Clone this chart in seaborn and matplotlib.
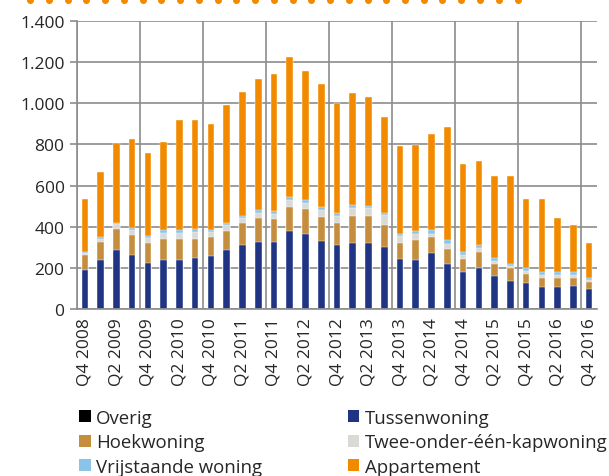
import numpy as np
import matplotlib
matplotlib.use("Agg")
import matplotlib.pyplot as plt
from matplotlib.lines import Line2D
from matplotlib.patches import Patch
from matplotlib.ticker import FuncFormatter
import seaborn as sns

## data
quarters = ["Q4 2008", "Q1 2009", "Q2 2009", "Q3 2009", "Q4 2009", "Q1 2010", "Q2 2010",
            "Q3 2010", "Q4 2010", "Q1 2011", "Q2 2011", "Q3 2011", "Q4 2011", "Q1 2012",
            "Q2 2012", "Q3 2012", "Q4 2012", "Q1 2013", "Q2 2013", "Q3 2013", "Q4 2013",
            "Q1 2014", "Q2 2014", "Q3 2014", "Q4 2014", "Q1 2015", "Q2 2015", "Q3 2015",
            "Q4 2015", "Q1 2016", "Q2 2016", "Q3 2016", "Q4 2016"]

overig = [2, 2, 2, 2, 2, 2, 2, 2, 2, 2, 2, 2, 2, 2, 2, 2, 2,
          2, 2, 2, 2, 2, 2, 2, 2, 2, 2, 2, 2, 2, 2, 2, 2]
tussenwoning = [187, 237, 286, 261, 224, 237, 237, 247, 257, 286, 308, 324, 324, 378, 365, 329, 310,
                321, 321, 299, 242, 237, 271, 218, 179, 198, 157, 135, 124, 106, 106, 111, 95]
hoekwoning = [73, 87, 103, 97, 93, 102, 99, 92, 89, 92, 109, 115, 112, 118, 119, 117, 108,
              129, 129, 108, 79, 96, 78, 72, 63, 78, 61, 60, 45, 44, 44, 39, 35]
twee_onder_een_kap = [10, 14, 23, 25, 24, 28, 31, 31, 24, 27, 22, 26, 24, 31, 31, 34, 32,
                      39, 39, 47, 30, 29, 16, 25, 19, 19, 14, 10, 13, 13, 13, 13, 10]
vrijstaand = [6, 11, 5, 8, 11, 13, 14, 16, 13, 13, 10, 12, 12, 14, 15, 13, 14,
              13, 12, 13, 12, 13, 16, 18, 13, 12, 15, 10, 13, 16, 14, 13, 10]
appartement = [255, 313, 386, 432, 403, 428, 534, 529, 516, 574, 606, 640, 669, 684, 627, 601, 536,
               545, 529, 462, 427, 420, 467, 548, 431, 409, 398, 428, 340, 356, 261, 228, 171]

series_names = ["Overig", "Tussenwoning", "Hoekwoning", "Twee-onder-één-kapwoning",
                "Vrijstaande woning", "Appartement"]
series_values = [overig, tussenwoning, hoekwoning, twee_onder_een_kap, vrijstaand, appartement]
colors = ["#000000", "#1f3584", "#c48e3e", "#d9d9d6", "#8cc3e9", "#f28a00"]

## style
sns.set_style("white")
plt.rcParams["font.family"] = ["Open Sans", "DejaVu Sans"]
grid_col = "#8c8c8c"

fig = plt.figure(figsize=(6.09, 4.77), dpi=100)
ax = fig.add_axes([77 / 609, 1 - 310 / 477, 520 / 609, 288 / 477])

## stacked bars: draw cumulative totals, tallest first
cum = np.cumsum(np.array(series_values), axis=0)
for i in range(len(series_names) - 1, -1, -1):
    sns.barplot(x=quarters, y=cum[i], color=colors[i], saturation=1, width=0.42,
                edgecolor="white", linewidth=0.3, ax=ax)

ax.set_xlim(-0.5, 32.5)
ax.set_ylim(0, 1400)
ax.set_yticks(range(0, 1401, 200))
ax.yaxis.set_major_formatter(FuncFormatter(lambda v, p: f"{int(v):,}".replace(",", ".")))
ax.set_xticks(range(0, len(quarters), 2))
ax.set_xticklabels(quarters[::2], rotation=90)
ax.set_xticks(np.arange(-0.5, 32, 4), minor=True)
ax.set_xlabel("")
ax.set_ylabel("")

ax.set_axisbelow(True)
ax.yaxis.grid(True, color=grid_col, lw=1.2)
ax.xaxis.grid(True, which="minor", color=grid_col, lw=1.2)
ax.xaxis.grid(False, which="major")
ax.tick_params(axis="y", length=5, width=1.2, color=grid_col, labelsize=12.5, pad=4, left=True)
ax.tick_params(axis="x", which="major", length=0, labelsize=12.5, pad=6)
ax.tick_params(axis="x", which="minor", length=3, width=1.2, color=grid_col)
for s in ["top", "right"]:
    ax.spines[s].set_visible(False)
for s in ["left", "bottom"]:
    ax.spines[s].set_color(grid_col)
    ax.spines[s].set_linewidth(1.2)

## legend, two columns read row by row
order = [0, 2, 4, 1, 3, 5]
handles = [Patch(facecolor=colors[k], edgecolor="none") for k in order]
labels = [series_names[k] for k in order]
fig.legend(handles, labels, ncol=2, loc="upper left", bbox_to_anchor=(79 / 609, 1 - 410 / 477),
           frameon=False, fontsize=13.4, handlelength=0.62, handleheight=0.62,
           handletextpad=0.3, labelspacing=0.34, columnspacing=4.6,
           borderpad=0, borderaxespad=0)

## dotted orange line on top
dots_x = np.arange(30, 520, 18.75) / 609
fig.add_artist(Line2D(dots_x, np.full(len(dots_x), 1 - 1.0 / 477), transform=fig.transFigure,
                      linestyle="none", marker="o", markersize=4, color="#f28a00"))

plt.savefig("out.png", dpi=100)
plt.close()
